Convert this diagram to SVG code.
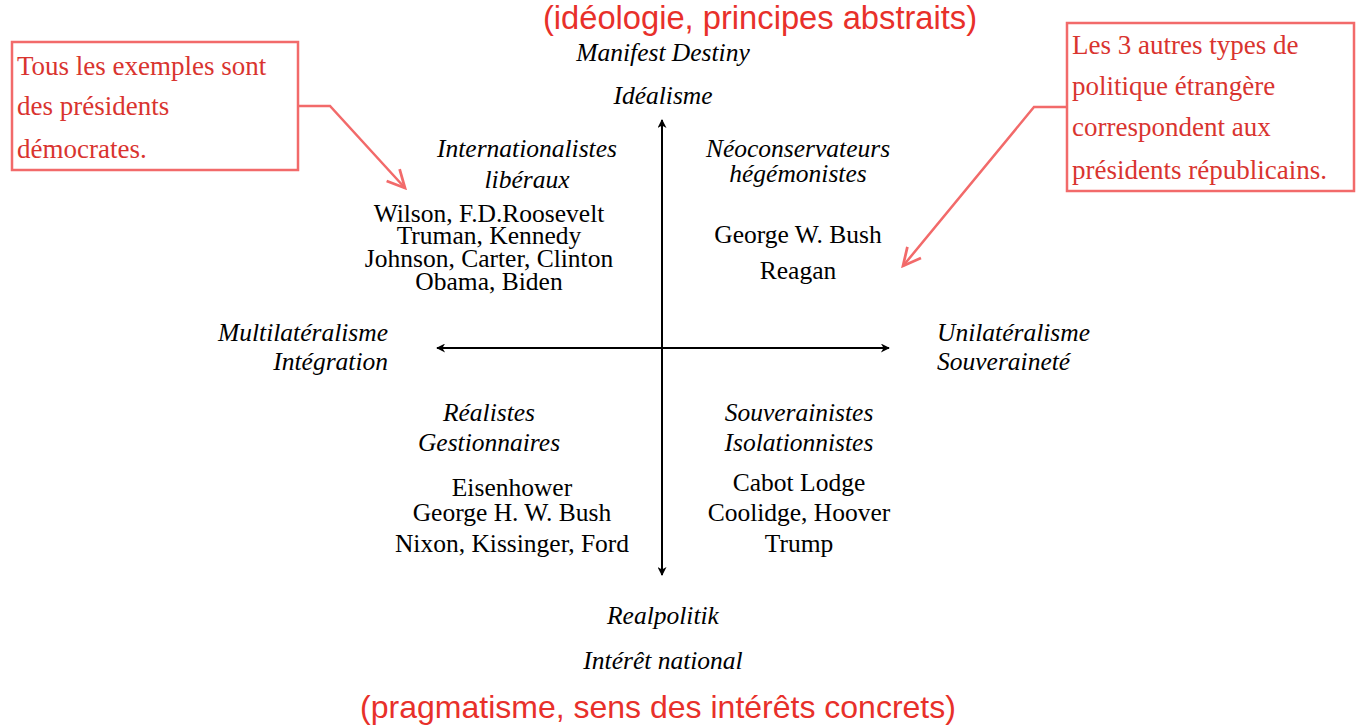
<svg xmlns="http://www.w3.org/2000/svg" width="1360" height="725" viewBox="0 0 1360 725">
<style>
.t{font-family:"Liberation Serif","Times New Roman",serif;font-size:25.5px;fill:#000;text-anchor:middle}
.i{font-style:italic}
.r{font-family:"Liberation Sans",Arial,sans-serif;font-size:32px;fill:#e8302a;text-anchor:middle}
.n{font-family:"Liberation Serif","DejaVu Serif",serif;font-size:27px;fill:#d9342f}
.box{fill:#fff;stroke:#f26a6a;stroke-width:2.5}
.cl{fill:none;stroke:#f26a6a;stroke-width:2.5}
.ax{stroke:#000;stroke-width:2;fill:none}
</style>
<defs>
<marker id="ah" viewBox="0 0 10 10" refX="9" refY="5" markerWidth="10" markerHeight="9" orient="auto-start-reverse" markerUnits="userSpaceOnUse">
<path d="M0,0 L10,5 L0,10 L3,5 Z" fill="#000"/>
</marker>
<marker id="oh" viewBox="0 0 20 20" refX="18" refY="10" markerWidth="22" markerHeight="22" orient="auto" markerUnits="userSpaceOnUse">
<path d="M2,2 L18,10 L2,18" fill="none" stroke="#f26a6a" stroke-width="2.5"/>
</marker>
</defs>
<rect width="1360" height="725" fill="#fff"/>
<g id="connectors">
<line class="ax" x1="662" y1="575" x2="662" y2="120" marker-start="url(#ah)" marker-end="url(#ah)"/>
<line class="ax" x1="437" y1="348" x2="889" y2="348" marker-start="url(#ah)" marker-end="url(#ah)"/>
<polyline class="cl" points="298,106 330,106 405,188" marker-end="url(#oh)"/>
<polyline class="cl" points="1067,107 1034,107 903,266" marker-end="url(#oh)"/>
</g>
<g id="top-title"><text class="r" x="760" y="29" style="font-size:32.7px">(idéologie, principes abstraits)</text></g>
<g id="bottom-title"><text class="r" x="658" y="718">(pragmatisme, sens des intérêts concrets)</text></g>
<g id="north">
<text class="t i" x="663" y="61">Manifest Destiny</text>
<text class="t i" x="663" y="104">Idéalisme</text>
</g>
<g id="south">
<text class="t i" x="663" y="624">Realpolitik</text>
<text class="t i" x="663" y="669">Intérêt national</text>
</g>
<g id="west">
<text class="t i" x="388" y="341" style="text-anchor:end">Multilatéralisme</text>
<text class="t i" x="388" y="370" style="text-anchor:end">Intégration</text>
</g>
<g id="east">
<text class="t i" x="937" y="341" style="text-anchor:start">Unilatéralisme</text>
<text class="t i" x="937" y="370" style="text-anchor:start">Souveraineté</text>
</g>
<g id="nw">
<text class="t i" x="527" y="157">Internationalistes</text>
<text class="t i" x="527" y="188">libéraux</text>
<text class="t" x="489" y="222">Wilson, F.D.Roosevelt</text>
<text class="t" x="489" y="244">Truman, Kennedy</text>
<text class="t" x="489" y="267">Johnson, Carter, Clinton</text>
<text class="t" x="489" y="290">Obama, Biden</text>
</g>
<g id="ne">
<text class="t i" x="798" y="157">Néoconservateurs</text>
<text class="t i" x="798" y="182">hégémonistes</text>
<text class="t" x="798" y="243">George W. Bush</text>
<text class="t" x="798" y="279">Reagan</text>
</g>
<g id="sw">
<text class="t i" x="489" y="421">Réalistes</text>
<text class="t i" x="489" y="451">Gestionnaires</text>
<text class="t" x="512" y="496">Eisenhower</text>
<text class="t" x="512" y="521">George H. W. Bush</text>
<text class="t" x="512" y="552">Nixon, Kissinger, Ford</text>
</g>
<g id="se">
<text class="t i" x="799" y="421">Souverainistes</text>
<text class="t i" x="799" y="451">Isolationnistes</text>
<text class="t" x="799" y="491">Cabot Lodge</text>
<text class="t" x="799" y="521">Coolidge, Hoover</text>
<text class="t" x="799" y="552">Trump</text>
</g>
<g id="note-left">
<rect class="box" x="12" y="42" width="286" height="128"/>
<text class="n" x="17" y="75">Tous les exemples sont</text>
<text class="n" x="17" y="115">des présidents</text>
<text class="n" x="17" y="158">démocrates.</text>
</g>
<g id="note-right">
<rect class="box" x="1067" y="23" width="287" height="168"/>
<text class="n" x="1072" y="54">Les 3 autres types de</text>
<text class="n" x="1072" y="95">politique étrangère</text>
<text class="n" x="1072" y="136">correspondent aux</text>
<text class="n" x="1072" y="179">présidents républicains.</text>
</g>
</svg>
